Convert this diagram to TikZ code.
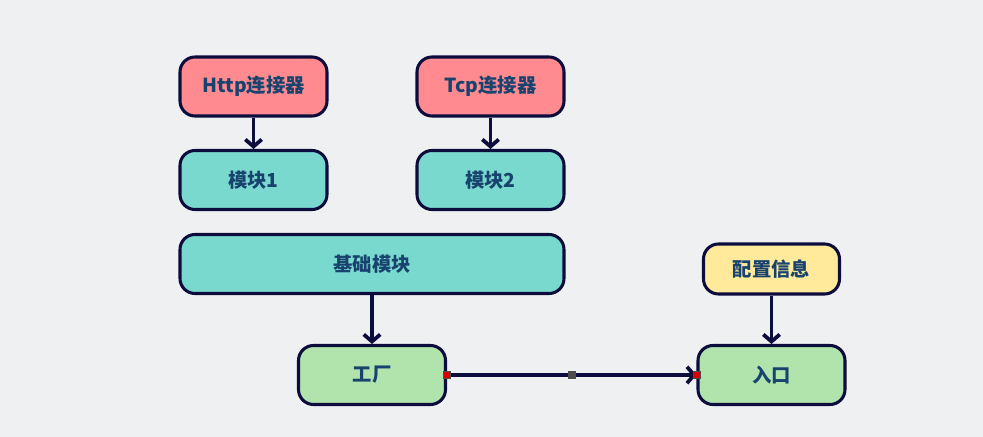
\documentclass[tikz,border=0pt]{standalone}
\usepackage{fontspec}
\newfontfamily\cjk{Noto Sans CJK SC}
\usepackage{tikz}
\usetikzlibrary{shapes.geometric, arrows.meta, positioning}
\definecolor{paper}{HTML}{EFF0F2}
\definecolor{navyline}{HTML}{0D0D3D}
\definecolor{labelblue}{HTML}{17436E}
\definecolor{connred}{HTML}{FF8A8F}
\definecolor{modteal}{HTML}{7AD9CF}
\definecolor{entrygreen}{HTML}{B1E3AD}
\definecolor{confyellow}{HTML}{FFE99B}
\tikzstyle{box} = [rectangle, rounded corners=0.45cm,
minimum width=4.41cm,
minimum height=1.77cm,
text centered,
draw=navyline,
line width=2.6pt,
text=labelblue,
font=\cjk\bfseries\fontsize{16.5}{19}\selectfont]
\tikzstyle{connector} = [box, fill=connred]
\tikzstyle{module} = [box, fill=modteal]
\tikzstyle{entry} = [box, fill=entrygreen]
\tikzstyle{config} = [box, fill=confyellow,
minimum width=4.08cm,
minimum height=1.5cm]
\tikzstyle{arrow} = [line width=3.2pt, draw=navyline, -{Straight Barb[length=6pt, width=14pt]}]
\tikzstyle{handle} = [rectangle, inner sep=0pt, minimum size=6pt, draw=black!70, fill=red!85!black]
\begin{document}
\begin{tikzpicture}[node distance=2.805cm]
\fill [paper] (0,0) rectangle (29.49,-13.11);
\useasboundingbox (0,0) rectangle (29.49,-13.11);

\node (http) [connector] at (7.605,-2.595) {Http连接器};
\node (tcp) [connector, right of=http, node distance=7.11cm] {Tcp连接器};
\node (mod1) [module, below of=http] {模块1};
\node (mod2) [module, below of=tcp] {模块2};
\node (base) [module, below of=mod1, node distance=2.52cm, xshift=3.555cm, minimum width=11.52cm] {基础模块};
\node (factory) [entry, below of=base, node distance=3.33cm] {工厂};
\node (entrance) [entry, right of=factory, node distance=11.985cm] {入口};
\node (conf) [config, above of=entrance, node distance=3.18cm] {配置信息};

\draw [arrow] (http) -- (mod1);
\draw [arrow] (tcp) -- (mod2);
\draw [arrow] (base) -- (factory);
\draw [arrow] (conf) -- (entrance);
\draw [arrow] (factory) -- node (mid) [handle, minimum size=4pt, fill=brown!70!gray] {} (entrance);

% selection handles
\node (hstart) [handle] at (factory.east) {};
\node (hend) [handle] at (entrance.west) {};

\end{tikzpicture}
\end{document}
